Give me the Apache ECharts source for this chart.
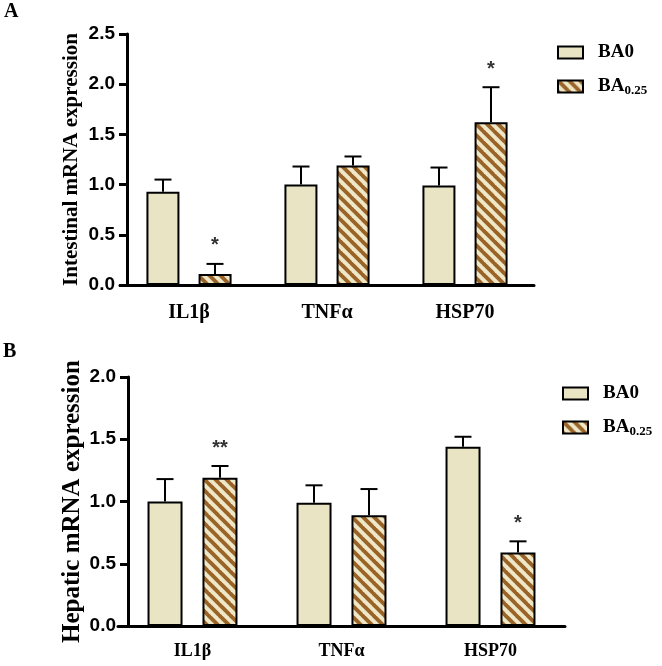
<!DOCTYPE html>
<html>
<head>
<meta charset="utf-8">
<script src="https://cdn.jsdelivr.net/npm/echarts@6/dist/echarts.min.js"></script>
<style>html,body{margin:0;padding:0;background:#fff}#c{width:662px;height:666px}</style>
</head>
<body>
<div id="c"></div>
<script>
// ---- data ----
const categories = ['IL1β', 'TNFα', 'HSP70'];
const seriesNames = ['BA0', 'BA0.25'];
// Panel A: intestinal
const intestinalBA0 = [0.93, 1.00, 0.99];
const intestinalBA0Err = [1.05, 1.18, 1.17];
const intestinalBA0Sig = ['', '', ''];
const intestinalBA025 = [0.11, 1.19, 1.62];
const intestinalBA025Err = [0.21, 1.28, 1.97];
const intestinalBA025Sig = ['*', '', '*'];
// Panel B: hepatic
const hepaticBA0 = [1.00, 0.99, 1.44];
const hepaticBA0Err = [1.18, 1.13, 1.52];
const hepaticBA0Sig = ['', '', ''];
const hepaticBA025 = [1.19, 0.89, 0.59];
const hepaticBA025Err = [1.285, 1.10, 0.68];
const hepaticBA025Sig = ['**', '', '*'];
// axes
const yMaxA = 2.5, yMaxB = 2.0, yStep = 0.5;

// ---- styles ----
const serif = '"Liberation Serif", "Times New Roman", serif';
const sans = '"Liberation Sans", Arial, sans-serif';
const beige = '#E9E4C4';
const brown = '#9A6428';

function stripePattern() {
  const s = 11;
  const cv = document.createElement('canvas');
  cv.width = s; cv.height = s;
  const ctx = cv.getContext('2d');
  ctx.fillStyle = '#EFE8C8';
  ctx.fillRect(0, 0, s, s);
  ctx.strokeStyle = brown;
  ctx.lineWidth = s / (2 * Math.SQRT2);
  for (let k = -1; k <= 1; k++) {
    ctx.beginPath();
    ctx.moveTo(k * s - 1, -1);
    ctx.lineTo(k * s + s + 1, s + 1);
    ctx.stroke();
  }
  return { image: cv, repeat: 'repeat' };
}
const stripe = stripePattern();

function errSeries(gi, vals, errs, sigs, offset, capHalf) {
  return {
    type: 'custom', xAxisIndex: gi, yAxisIndex: gi, z: 5, silent: true,
    data: vals.map((v, i) => [i, v, errs[i]]),
    renderItem: function (params, api) {
      const i = api.value(0);
      const p0 = api.coord([i, api.value(1)]);
      const p1 = api.coord([i, api.value(2)]);
      const x = p0[0] + offset;
      const children = [
        { type: 'line', shape: { x1: x, y1: p0[1], x2: x, y2: p1[1] }, style: { stroke: '#000', lineWidth: 2 } },
        { type: 'line', shape: { x1: x - capHalf, y1: p1[1], x2: x + capHalf, y2: p1[1] }, style: { stroke: '#000', lineWidth: 2 } }
      ];
      const s = sigs[params.dataIndex];
      if (s) {
        children.push({ type: 'text', style: { text: s, x: x, y: p1[1] - 8, align: 'center', verticalAlign: 'bottom', font: 'bold 20px ' + sans, fill: '#333' } });
      }
      return { type: 'group', children: children };
    }
  };
}

function barSeries(gi, name, vals, color, bw, gap) {
  return {
    type: 'bar', name: name, xAxisIndex: gi, yAxisIndex: gi,
    data: vals, barWidth: bw, barGap: gap,
    itemStyle: { color: color, borderColor: '#000', borderWidth: 2 },
    emphasis: { disabled: true }
  };
}

function xAxisCfg(gi, margin, fs) {
  return {
    type: 'category', gridIndex: gi, data: categories,
    axisLine: { lineStyle: { color: '#000', width: 3 } },
    axisTick: { alignWithLabel: true, length: 10, lineStyle: { color: '#000', width: 3 } },
    axisLabel: { color: '#000', fontFamily: serif, fontWeight: 'bold', fontSize: fs, margin: margin }
  };
}
function yAxisCfg(gi, max, name, nameSize, nameGap, off) {
  return {
    type: 'value', gridIndex: gi, min: 0, max: max, interval: yStep, offset: off,
    name: name, nameLocation: 'middle', nameGap: nameGap, nameMoveOverlap: false,
    nameTextStyle: { color: '#000', fontFamily: serif, fontWeight: 'bold', fontSize: nameSize },
    axisLine: { show: true, lineStyle: { color: '#000', width: 3 } },
    axisTick: { show: true, length: 8, lineStyle: { color: '#000', width: 3 } },
    axisLabel: { color: '#000', fontFamily: sans, fontWeight: 'bold', fontSize: 19, margin: 12, formatter: v => v.toFixed(1) },
    splitLine: { show: false }
  };
}
function legendCfg(name, left, top) {
  return {
    data: [name], left: left, top: top, orient: 'vertical', selectedMode: false,
    icon: 'rect', itemWidth: 25, itemHeight: 12, padding: 0,
    itemStyle: { borderColor: '#000', borderWidth: 2 },
    textStyle: {
      color: '#000', fontFamily: serif, fontWeight: 'bold', fontSize: 19, padding: [0, 0, 0, 10],
      rich: { sub: { fontFamily: serif, fontWeight: 'bold', fontSize: 13, color: '#000', padding: [9, 0, 0, 0] } }
    },
    formatter: n => n === 'BA0.25' ? 'BA{sub|0.25}' : n
  };
}

const chart = echarts.init(document.getElementById('c'), null, { renderer: 'canvas' });
chart.setOption({
  animation: false,
  backgroundColor: '#fff',
  title: [
    { text: 'A', left: 4, top: 2, padding: 0, textStyle: { fontFamily: serif, fontWeight: 'bold', fontSize: 20, color: '#000' } },
    { text: 'B', left: 3, top: 342, padding: 0, textStyle: { fontFamily: serif, fontWeight: 'bold', fontSize: 20, color: '#000' } }
  ],
  grid: [
    { left: 120, width: 414, top: 34, height: 251 },
    { left: 118, width: 447, top: 377, height: 249 }
  ],
  xAxis: [xAxisCfg(0, 18, 20), xAxisCfg(1, 16, 18)],
  yAxis: [
    yAxisCfg(0, yMaxA, 'Intestinal mRNA expression', 21, 45, -7),
    yAxisCfg(1, yMaxB, 'Hepatic mRNA expression', 25, 43, -10)
  ],
  legend: [
    legendCfg(seriesNames[0], 557, 43),
    legendCfg(seriesNames[1], 557, 77),
    legendCfg(seriesNames[0], 562, 384),
    legendCfg(seriesNames[1], 562, 418)
  ],
  series: [
    barSeries(0, seriesNames[0], intestinalBA0, beige, 33, '58%'),
    barSeries(0, seriesNames[1], intestinalBA025, stripe, 33, '58%'),
    errSeries(0, intestinalBA0, intestinalBA0Err, intestinalBA0Sig, -26, 8.5),
    errSeries(0, intestinalBA025, intestinalBA025Err, intestinalBA025Sig, 26, 8.5),
    barSeries(1, seriesNames[0], hepaticBA0, beige, 35, '57%'),
    barSeries(1, seriesNames[1], hepaticBA025, stripe, 35, '57%'),
    errSeries(1, hepaticBA0, hepaticBA0Err, hepaticBA0Sig, -27.5, 8.5),
    errSeries(1, hepaticBA025, hepaticBA025Err, hepaticBA025Sig, 27.5, 8.5)
  ]
});
</script>
</body>
</html>
